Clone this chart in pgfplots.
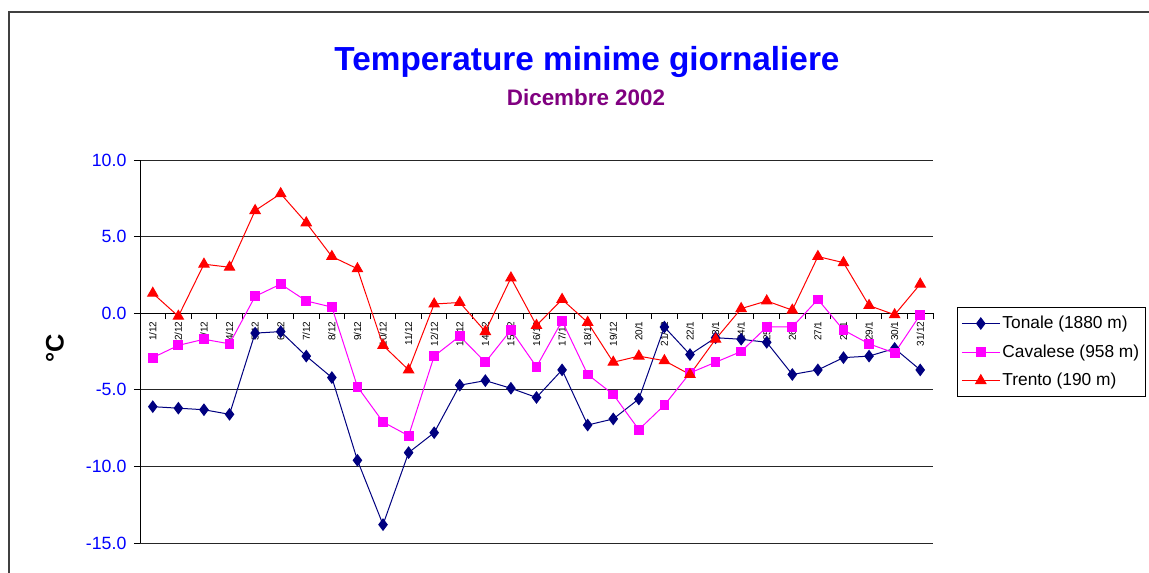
\documentclass[border=0pt]{standalone}
\usepackage{fontspec}
\setmainfont{Liberation Sans}
\usepackage{pgfplots}
\usepackage{pgfplotstable}
\pgfplotsset{compat=1.18}
\definecolor{navy}{RGB}{0,0,128}
\definecolor{purp}{RGB}{128,0,128}
\definecolor{mag}{RGB}{255,0,255}

\pgfplotstableread{
x Tonale Cavalese Trento
1 -6.1 -2.9 1.3
2 -6.2 -2.1 -0.2
3 -6.3 -1.7 3.2
4 -6.6 -2.0 3.0
5 -1.3 1.1 6.7
6 -1.2 1.9 7.8
7 -2.8 0.8 5.9
8 -4.2 0.4 3.7
9 -9.6 -4.8 2.9
10 -13.8 -7.1 -2.1
11 -9.1 -8.0 -3.7
12 -7.8 -2.8 0.6
13 -4.7 -1.5 0.7
14 -4.4 -3.2 -1.2
15 -4.9 -1.1 2.3
16 -5.5 -3.5 -0.8
17 -3.7 -0.5 0.9
18 -7.3 -4.0 -0.6
19 -6.9 -5.3 -3.2
20 -5.6 -7.6 -2.8
21 -0.9 -6.0 -3.1
22 -2.7 -3.9 -4.0
23 -1.6 -3.2 -1.7
24 -1.7 -2.5 0.3
25 -1.9 -0.9 0.8
26 -4.0 -0.9 0.2
27 -3.7 0.9 3.7
28 -2.9 -1.1 3.3
29 -2.8 -2.0 0.5
30 -2.3 -2.6 -0.1
31 -3.7 -0.1 1.9
}\datatable

\begin{document}
\begin{tikzpicture}
\useasboundingbox (0,0) rectangle (861.75pt,-429pt);
\fill[white] (0,0) rectangle (861.75pt,-429pt);
\begin{scope}
\clip (0,0) rectangle (861.75pt,-429pt);
\draw[line width=1.5pt, black!75] (6.75pt,-440pt) -- (6.75pt,-9pt) -- (870pt,-9pt);
\end{scope}
\node[font=\bfseries\fontsize{25}{25}\selectfont, text=blue] at (440.25pt,-46.5pt) {Temperature minime giornaliere};
\node[font=\bfseries\fontsize{16.8}{16.8}\selectfont, text=purp] at (439.5pt,-72.75pt) {Dicembre 2002};
\node[font=\bfseries\fontsize{19}{19}\selectfont, rotate=90] at (41.25pt,-261pt) {°C};
\begin{axis}[
  at={(105pt,-407.25pt)}, anchor=south west,
  scale only axis, width=594.75pt, height=287.25pt,
  xmin=0.5, xmax=31.5, ymin=-15, ymax=10,
  axis x line*=middle, axis y line*=left,
  axis line style={black, line width=0.75pt},
  xtick={1,...,31},
  xticklabels={1/12,2/12,3/12,4/12,5/12,6/12,7/12,8/12,9/12,10/12,11/12,12/12,13/12,14/12,15/12,16/12,17/12,18/12,19/12,20/1,21/12,22/1,23/1,24/1,25/1,26/1,27/1,28/1,29/1,30/1,31/12},
  minor xtick={0.5,1.5,...,31.5},
  major x tick style={draw=none},
  minor x tick style={black, line width=0.75pt},
  minor tick length=4.5pt,
  xtick align=outside,
  xticklabel style={rotate=90, anchor=east, font=\fontsize{7.5}{7.5}\selectfont, inner sep=1.5pt},
  ytick={-15,-10,...,10},
  ytick align=outside,
  major tick length=4.5pt,
  ytick style={black, line width=0.75pt},
  ymajorgrids,
  grid style={black!85, line width=0.75pt},
  yticklabel style={font=\fontsize{13.3}{13.3}\selectfont, text=blue, inner sep=5.5pt},
  /pgf/number format/assume math mode=true,
  yticklabel={\pgfmathprintnumber[fixed, fixed zerofill, precision=1]{\tick}},
  legend style={at={(axis description cs:1.030,0.616)}, anchor=north west,
    draw=black, line width=0.75pt, font=\fontsize{13}{15}\selectfont,
    row sep=6.5pt, inner xsep=3pt, inner ysep=4.5pt,
    nodes={inner xsep=1.6pt}},
  legend cell align=left,
  legend image code/.code={\draw[mark repeat=2, mark phase=2] plot coordinates {(0pt,0pt) (14.25pt,0pt) (28.5pt,0pt)};},
  clip=false,
]
\addplot[navy, line width=0.75pt, mark=diamond*, mark size=4.2pt, mark options={fill=navy, draw=navy}] table[x=x, y=Tonale] {\datatable};
\addlegendentry{Tonale (1880 m)}
\addplot[mag, line width=0.75pt, mark=square*, mark size=3.3pt, mark options={fill=mag, draw=mag}] table[x=x, y=Cavalese] {\datatable};
\addlegendentry{Cavalese (958 m)}
\addplot[red, line width=0.75pt, mark=triangle*, mark size=4.4pt, mark options={fill=red, draw=red}] table[x=x, y=Trento] {\datatable};
\addlegendentry{Trento (190 m)}
\end{axis}
\end{tikzpicture}
\end{document}
